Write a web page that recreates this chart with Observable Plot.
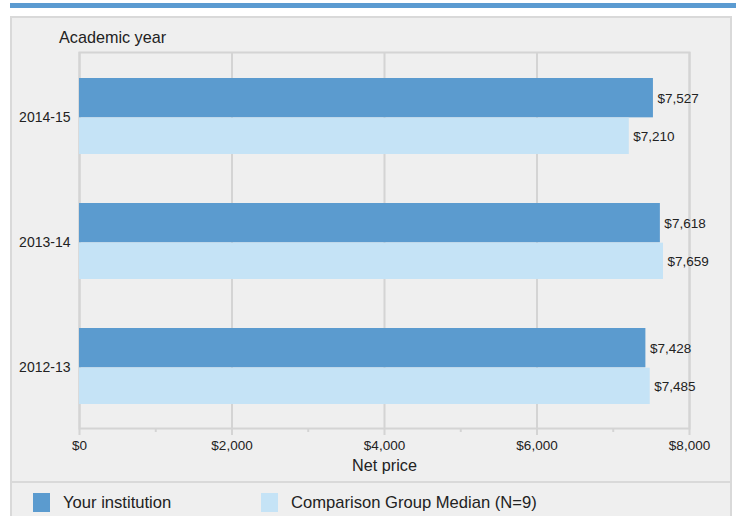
<!DOCTYPE html>
<html>
<head>
<meta charset="utf-8">
<script src="https://cdn.jsdelivr.net/npm/d3@7"></script>
<script src="https://cdn.jsdelivr.net/npm/@observablehq/plot@0.6"></script>
<style>
  html, body { margin: 0; padding: 0; background: #ffffff; }
  body { width: 736px; height: 516px; overflow: hidden; position: relative;
         font-family: "Liberation Sans", Arial, sans-serif; color: #222; }
  .abs { position: absolute; }
  #band { left: 10px; top: 3px; width: 726px; height: 5px; background: #5b9bd1; }
  #panel { left: 10px; top: 16px; width: 722px; height: 520px; background: #efefef;
           border: 2px solid #d9d9d9; box-sizing: border-box; }
  #ytitle { left: 59px; top: 28px; font-size: 16.2px; line-height: 18px; }
  #chart { left: 0px; top: 0px; }
  #sep { left: 10px; top: 481px; width: 722px; height: 2px; background: #d9d9d9; }
  .sw { width: 17px; height: 19px; top: 493px; }
  .lt { top: 494px; font-size: 16.6px; line-height: 18px; }
</style>
</head>
<body>
<div id="band" class="abs"></div>
<div id="panel" class="abs"></div>
<div id="ytitle" class="abs">Academic year</div>
<div id="chart" class="abs"></div>
<div id="sep" class="abs"></div>
<div class="abs sw" style="left:33px;background:#5b9bcf"></div>
<div class="abs lt" style="left:63px">Your institution</div>
<div class="abs sw" style="left:261px;background:#c5e3f6"></div>
<div class="abs lt" style="left:291px">Comparison Group Median (N=9)</div>
<script>
const years = ["2014-15", "2013-14", "2012-13"];
const institution = [7527, 7618, 7428];
const comparison = [7210, 7659, 7485];
const xTicks = [0, 2000, 4000, 6000, 8000];
const minorTicks = [1000, 3000, 5000, 7000];
const seriesNames = ["Your institution", "Comparison Group Median (N=9)"];

const data = years.map((y, i) => ({year: y, inst: institution[i], comp: comparison[i]}));

const W = 736, H = 482, mt = 52, mb = 54, ml = 79, mr = 47;
const frameH = H - mt - mb;
const bw = frameH / years.length;
const money = v => "$" + d3.format(",")(v);
const grid = "#d4d4d4";

const chart = Plot.plot({
  width: W, height: H,
  marginTop: mt, marginBottom: mb, marginLeft: ml, marginRight: mr,
  style: {fontFamily: "Liberation Sans, Arial, sans-serif", fontSize: "13.5px", color: "#222", background: "transparent"},
  x: {domain: [0, 8000], axis: null},
  y: {domain: years, padding: 0, axis: null},
  marks: [
    Plot.ruleX(xTicks, {x: d => d, stroke: grid, strokeWidth: 2, insetBottom: -7}),
    Plot.ruleX(minorTicks, {x: d => d, stroke: grid, strokeWidth: 2, insetTop: frameH, insetBottom: -4}),
    Plot.frame({stroke: grid, strokeWidth: 2}),
    Plot.barX(data, {x: "inst", y: "year", fill: "#5b9bcf", insetTop: 25, insetBottom: bw / 2 - 2}),
    Plot.barX(data, {x: "comp", y: "year", fill: "#c5e3f6", insetTop: bw / 2 + 2, insetBottom: 24}),
    Plot.text(data, {x: "inst", y: "year", text: d => money(d.inst), textAnchor: "start", dx: 4, dy: -17, fill: "#222"}),
    Plot.text(data, {x: "comp", y: "year", text: d => money(d.comp), textAnchor: "start", dx: 4, dy: 21, fill: "#222"}),
    Plot.text(years, {y: d => d, text: d => d, frameAnchor: "left", textAnchor: "end", dx: -9, dy: 1.5, fontSize: 14, fill: "#222"}),
    Plot.text(xTicks, {x: d => d, text: d => money(d), frameAnchor: "bottom", dy: 21, fill: "#222"}),
    Plot.text(["Net price"], {text: d => d, frameAnchor: "bottom", dy: 42.5, fontSize: 16.2, fill: "#222"})
  ]
});
document.getElementById("chart").appendChild(chart);
</script>
</body>
</html>
